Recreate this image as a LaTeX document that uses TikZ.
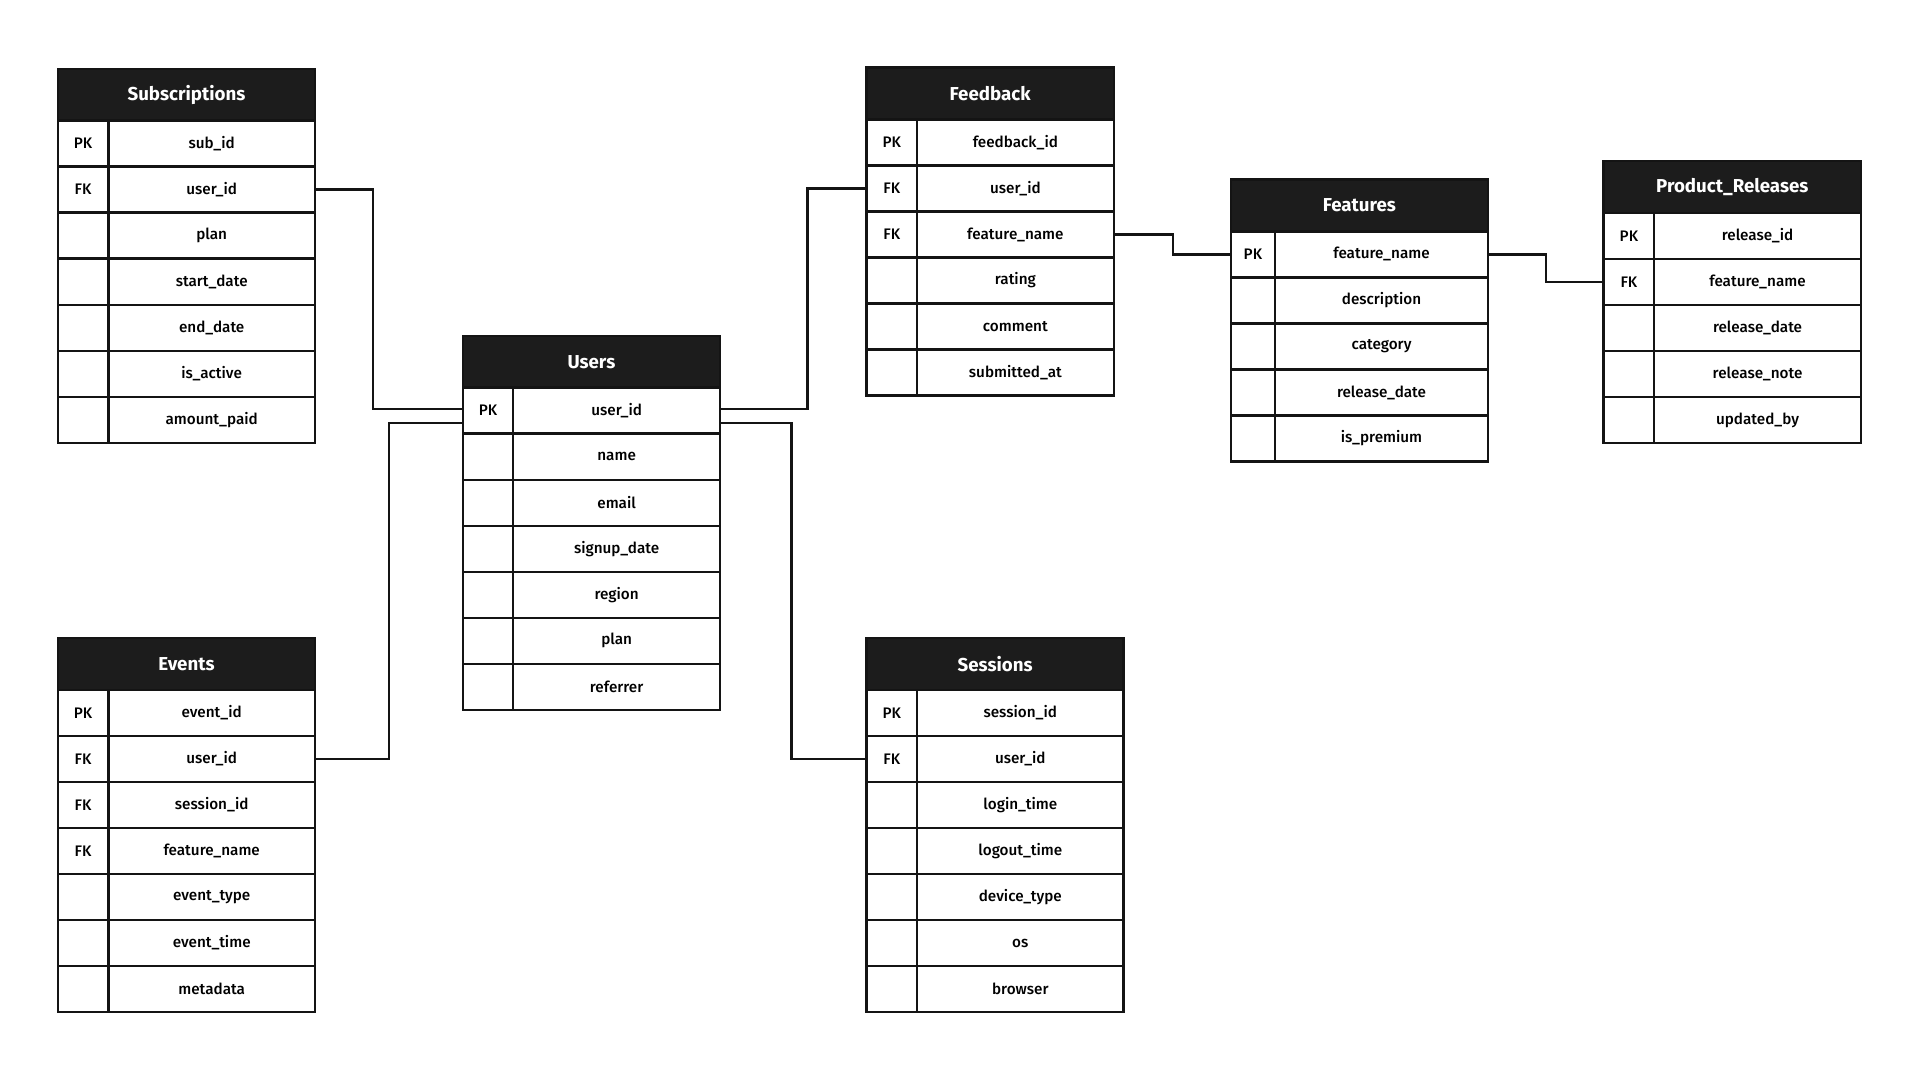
\documentclass[tikz,border=0pt]{standalone}
\usepackage{fontspec}
\setmainfont{Fira Sans}[UprightFont=* Medium, BoldFont=* Bold]
\usetikzlibrary{positioning}
\definecolor{headclr}{rgb}{0.11, 0.11, 0.11}
\definecolor{lineclr}{rgb}{0.08, 0.08, 0.08}
\tikzset{ %
  ,every node/.style={font=\fontsize{6.2}{7}\selectfont}
  ,thead/.style={draw=lineclr, fill=headclr, text=white, font=\fontsize{7.6}{9}\selectfont\bfseries, minimum width=104.5pt, minimum height=21pt, inner sep=0, outer sep=0, anchor=north west}
  ,keycell/.style={draw=lineclr, minimum width=20.5pt, minimum height=18.7pt, inner sep=0, outer sep=0, anchor=north west}
  ,fieldcell/.style={draw=lineclr, minimum width=84pt, minimum height=18.7pt, inner sep=0, outer sep=0}
  ,link/.style={draw=lineclr, line width=1pt}
}
\begin{document}
\begin{tikzpicture}[x=0.5pt, y=-0.5pt, line width=1pt]
  \fill[white] (0,0) rectangle (1560,877.5);
  \useasboundingbox (0,0) rectangle (1560,877.5);
  % Subscriptions
  \node[thead] (sub) at (47,56) {Subscriptions};
  \foreach \k/\f [count=\i] in {PK/sub\_id, FK/user\_id, /plan, /start\_date, /end\_date, /is\_active, /amount\_paid} {
    \node[keycell] (sub-k\i) at ([yshift={-(\i-1)*18.7pt}]sub.south west) {\k};
    \node[fieldcell, right=0pt of sub-k\i] (sub-f\i) {\f};
  }
  % Users
  \node[thead] (usr) at (376,273) {Users};
  \foreach \k/\f [count=\i] in {PK/user\_id, /name, /email, /signup\_date, /region, /plan, /referrer} {
    \node[keycell] (usr-k\i) at ([yshift={-(\i-1)*18.7pt}]usr.south west) {\k};
    \node[fieldcell, right=0pt of usr-k\i] (usr-f\i) {\f};
  }
  % Events
  \node[thead] (evt) at (47,518.5) {Events};
  \foreach \k/\f [count=\i] in {PK/event\_id, FK/user\_id, FK/session\_id, FK/feature\_name, /event\_type, /event\_time, /metadata} {
    \node[keycell] (evt-k\i) at ([yshift={-(\i-1)*18.7pt}]evt.south west) {\k};
    \node[fieldcell, right=0pt of evt-k\i] (evt-f\i) {\f};
  }
  % Feedback
  \node[thead, minimum width=100.5pt] (fbk) at (704,55) {Feedback};
  \foreach \k/\f [count=\i] in {PK/feedback\_id, FK/user\_id, FK/feature\_name, /rating, /comment, /submitted\_at} {
    \node[keycell] (fbk-k\i) at ([yshift={-(\i-1)*18.7pt}]fbk.south west) {\k};
    \node[fieldcell, minimum width=80pt, right=0pt of fbk-k\i] (fbk-f\i) {\f};
  }
  % Sessions
  \node[thead] (ses) at (704,518.5) {Sessions};
  \foreach \k/\f [count=\i] in {PK/session\_id, FK/user\_id, /login\_time, /logout\_time, /device\_type, /os, /browser} {
    \node[keycell] (ses-k\i) at ([yshift={-(\i-1)*18.7pt}]ses.south west) {\k};
    \node[fieldcell, right=0pt of ses-k\i] (ses-f\i) {\f};
  }
  % Features
  \node[thead] (fea) at (1000,146) {Features};
  \foreach \k/\f [count=\i] in {PK/feature\_name, /description, /category, /release\_date, /is\_premium} {
    \node[keycell, minimum width=18pt] (fea-k\i) at ([yshift={-(\i-1)*18.7pt}]fea.south west) {\k};
    \node[fieldcell, minimum width=86.5pt, right=0pt of fea-k\i] (fea-f\i) {\f};
  }
  % Product_Releases
  \node[thead] (prl) at (1303,131) {Product\_Releases};
  \foreach \k/\f [count=\i] in {PK/release\_id, FK/feature\_name, /release\_date, /release\_note, /updated\_by} {
    \node[keycell] (prl-k\i) at ([yshift={-(\i-1)*18.7pt}]prl.south west) {\k};
    \node[fieldcell, right=0pt of prl-k\i] (prl-f\i) {\f};
  }
  % relations
  \draw[link] (sub-f2.east) -- ++(47,0) |- ([yshift=0.75pt]usr-k1.west);
  \draw[link] ([yshift=-5pt]usr-k1.west) -- ++(-60,0) |- (evt-f2.east);
  \draw[link] ([yshift=0.75pt]usr-f1.east) -- ++(71,0) |- (fbk-k2.west);
  \draw[link] ([yshift=-5pt]usr-f1.east) -- ++(58,0) |- (ses-k2.west);
  \draw[link] (fbk-f3.east) -- ++(48,0) |- (fea-k1.west);
  \draw[link] (fea-f1.east) -- ++(47,0) |- (prl-k2.west);
\end{tikzpicture}
\end{document}
